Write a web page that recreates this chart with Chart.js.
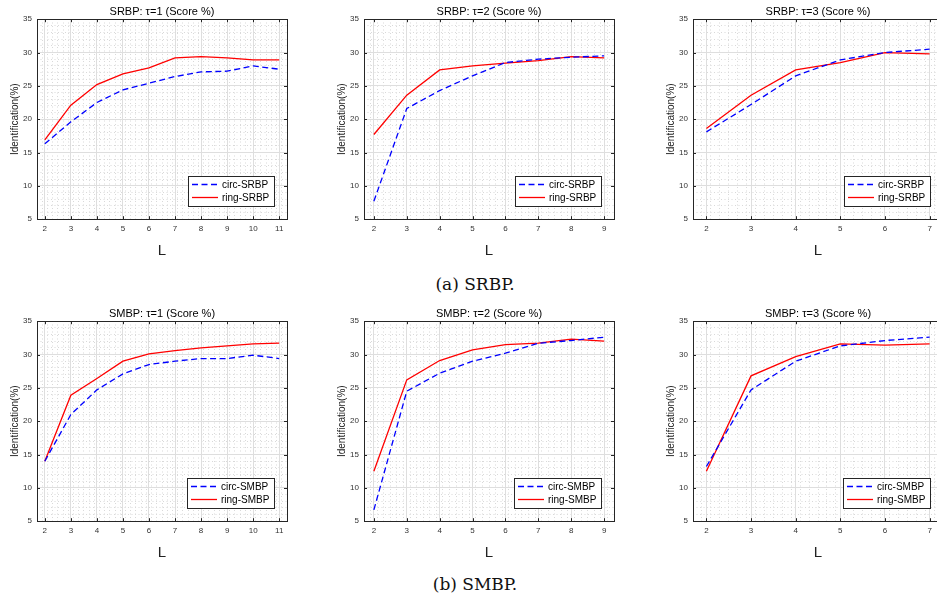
<!DOCTYPE html>
<html>
<head>
<meta charset="utf-8">
<script src="https://cdn.jsdelivr.net/npm/chart.js@4.4.1/dist/chart.umd.min.js"></script>
<style>
  body { margin: 0; width: 937px; height: 606px; overflow: hidden; position: relative; background: #fff; }
  canvas { position: absolute; }
  .cap { position: absolute; width: 200px; left: 375px; text-align: center; font-family: "DejaVu Serif", serif; font-size: 17px; color: #111; }
</style>
</head>
<body>
<canvas id="c1" width="324" height="260" style="left:0px;top:0px"></canvas>
<canvas id="c2" width="324" height="260" style="left:327px;top:0px"></canvas>
<canvas id="c3" width="324" height="260" style="left:656px;top:0px"></canvas>
<div class="cap" style="top:274px">(a) SRBP.</div>
<canvas id="c4" width="324" height="260" style="left:0px;top:302px"></canvas>
<canvas id="c5" width="324" height="260" style="left:327px;top:302px"></canvas>
<canvas id="c6" width="324" height="260" style="left:656px;top:302px"></canvas>
<div class="cap" style="top:574px">(b) SMBP.</div>
<script>
// x values (L) per tau
const L1 = [2, 3, 4, 5, 6, 7, 8, 9, 10, 11];
const L2 = [2, 3, 4, 5, 6, 7, 8, 9];
const L3 = [2, 3, 4, 5, 6, 7];

// SRBP scores (%)
const srbpCirc1 = [16.3, 19.6, 22.5, 24.4, 25.4, 26.4, 27.1, 27.2, 28.0, 27.5];
const srbpRing1 = [16.9, 22.1, 25.2, 26.8, 27.7, 29.2, 29.4, 29.2, 28.9, 28.9];
const srbpCirc2 = [7.7, 21.6, 24.3, 26.5, 28.5, 29.0, 29.3, 29.5];
const srbpRing2 = [17.7, 23.6, 27.4, 28.0, 28.4, 28.8, 29.4, 29.2];
const srbpCirc3 = [18.1, 22.2, 26.5, 28.9, 30.0, 30.5];
const srbpRing3 = [18.6, 23.6, 27.4, 28.5, 30.0, 29.8];

// SMBP scores (%)
const smbpCirc1 = [14.0, 21.0, 24.7, 27.1, 28.5, 29.0, 29.4, 29.4, 29.9, 29.4];
const smbpRing1 = [14.0, 23.9, 26.4, 29.0, 30.1, 30.6, 31.0, 31.3, 31.6, 31.7];
const smbpCirc2 = [6.7, 24.5, 27.2, 29.0, 30.2, 31.7, 32.1, 32.6];
const smbpRing2 = [12.5, 26.2, 29.1, 30.7, 31.5, 31.7, 32.3, 32.0];
const smbpCirc3 = [13.2, 24.7, 29.0, 31.3, 32.1, 32.6];
const smbpRing3 = [12.5, 26.8, 29.7, 31.6, 31.4, 31.6];

const yMin = 5, yMax = 35, yStep = 5;

Chart.defaults.font.family = '"Liberation Sans", Arial, Helvetica, sans-serif';
Chart.defaults.color = "#333";

const axisColor = "#262626";

// box, inward ticks and legend inside the axes (matlab look)
const boxLegend = {
    id: "boxLegend",
    afterDatasetsDraw(chart) {
        const { ctx, chartArea: a } = chart;
        const xs = chart.scales.x, ys = chart.scales.y;
        ctx.save();
        ctx.strokeStyle = axisColor;
        ctx.lineWidth = 1;
        ctx.setLineDash([]);
        ctx.strokeRect(Math.round(a.left) + 0.5, Math.round(a.top) + 0.5, Math.round(a.width), Math.round(a.height));

        ctx.beginPath();
        xs.ticks.forEach(t => {
            const px = Math.round(xs.getPixelForValue(t.value)) + 0.5;
            ctx.moveTo(px, a.bottom); ctx.lineTo(px, a.bottom - 3);
            ctx.moveTo(px, a.top); ctx.lineTo(px, a.top + 3);
        });
        ys.ticks.forEach(t => {
            const py = Math.round(ys.getPixelForValue(t.value)) + 0.5;
            ctx.moveTo(a.left, py); ctx.lineTo(a.left + 3, py);
            ctx.moveTo(a.right, py); ctx.lineTo(a.right - 3, py);
        });
        ctx.stroke();

        // legend
        const sets = chart.data.datasets;
        ctx.font = '10px "Liberation Sans", Arial, sans-serif';
        const tw = Math.max(...sets.map(d => ctx.measureText(d.label).width));
        const w = Math.round(4 + 26 + 4 + tw + 5), h = 30;
        const x = Math.round(a.right - 13 - w), y = Math.round(a.bottom - 13 - h);
        ctx.fillStyle = "#fff";
        ctx.fillRect(x, y, w, h);
        ctx.strokeStyle = axisColor;
        ctx.strokeRect(x + 0.5, y + 0.5, w, h);
        sets.forEach((d, i) => {
            const yy = y + 8.5 + i * 13;
            ctx.strokeStyle = d.borderColor;
            ctx.lineWidth = d.borderWidth;
            ctx.setLineDash(d.borderDash || []);
            ctx.beginPath();
            ctx.moveTo(x + 4, yy);
            ctx.lineTo(x + 30, yy);
            ctx.stroke();
            ctx.setLineDash([]);
            ctx.fillStyle = "#000";
            ctx.textBaseline = "middle";
            ctx.fillText(d.label, x + 34, yy + 0.5);
        });
        ctx.restore();
    }
};

function makeChart(id, title, L, circ, ring, names) {
    const xMin = L[0] - 0.3, xMax = L[L.length - 1] + 0.3;
    const pts = arr => arr.map((v, i) => ({ x: L[i], y: v }));

    return new Chart(document.getElementById(id), {
        type: "line",
        data: {
            datasets: [
                {
                    label: names[0],
                    data: pts(circ),
                    borderColor: "#0000ff",
                    borderWidth: 1.3,
                    borderDash: [6, 3.5],
                    pointRadius: 0,
                    fill: false,
                    tension: 0
                },
                {
                    label: names[1],
                    data: pts(ring),
                    borderColor: "#ff0000",
                    borderWidth: 1.3,
                    pointRadius: 0,
                    fill: false,
                    tension: 0
                }
            ]
        },
        options: {
            responsive: false,
            animation: false,
            devicePixelRatio: 1,
            layout: { padding: 0 },
            plugins: {
                legend: { display: false },
                tooltip: { enabled: false },
                title: {
                    display: true,
                    text: title,
                    color: "#000",
                    font: { size: 11, weight: "normal" },
                    padding: { top: 5, bottom: 1 }
                }
            },
            scales: {
                xm: {
                    type: "linear",
                    position: "top",
                    min: xMin,
                    max: xMax,
                    ticks: { display: false, stepSize: 0.2, includeBounds: false },
                    grid: { color: "#d9d9d9", drawTicks: false },
                    border: { display: false, dash: [1, 2.5] },
                    afterBuildTicks: s => { s.ticks = s.ticks.filter(t => Math.abs(t.value - Math.round(t.value)) > 1e-6); },
                    afterFit: s => { s.height = 0; }
                },
                ym: {
                    type: "linear",
                    position: "right",
                    min: yMin,
                    max: yMax,
                    ticks: { display: false, stepSize: 1 },
                    grid: { color: "#d9d9d9", drawTicks: false },
                    border: { display: false, dash: [1, 2.5] },
                    afterBuildTicks: s => { s.ticks = s.ticks.filter(t => Math.round(t.value) % yStep !== 0); },
                    afterFit: s => { s.width = 37; }
                },
                x: {
                    type: "linear",
                    min: xMin,
                    max: xMax,
                    ticks: { stepSize: 1, includeBounds: false, padding: 5, color: "#333", font: { size: 8 } },
                    grid: { color: "#dedede", drawTicks: false },
                    border: { display: false },
                    title: { display: true, text: "L", color: "#222", font: { size: 15 }, padding: { top: 6, bottom: 0 } },
                    afterFit: s => { s.height = 40.8; }
                },
                y: {
                    type: "linear",
                    min: yMin,
                    max: yMax,
                    ticks: { stepSize: yStep, padding: 5, color: "#333", font: { size: 8 } },
                    grid: { color: "#dedede", drawTicks: false },
                    border: { display: false },
                    title: { display: true, text: "Identification(%)", color: "#222", font: { size: 10 }, padding: { top: 9, bottom: 0 } },
                    afterFit: s => { s.width = 37; }
                }
            }
        },
        plugins: [boxLegend]
    });
}

makeChart("c1", "SRBP: \u03c4=1 (Score %)", L1, srbpCirc1, srbpRing1, ["circ-SRBP", "ring-SRBP"]);
makeChart("c2", "SRBP: \u03c4=2 (Score %)", L2, srbpCirc2, srbpRing2, ["circ-SRBP", "ring-SRBP"]);
makeChart("c3", "SRBP: \u03c4=3 (Score %)", L3, srbpCirc3, srbpRing3, ["circ-SRBP", "ring-SRBP"]);
makeChart("c4", "SMBP: \u03c4=1 (Score %)", L1, smbpCirc1, smbpRing1, ["circ-SMBP", "ring-SMBP"]);
makeChart("c5", "SMBP: \u03c4=2 (Score %)", L2, smbpCirc2, smbpRing2, ["circ-SMBP", "ring-SMBP"]);
makeChart("c6", "SMBP: \u03c4=3 (Score %)", L3, smbpCirc3, smbpRing3, ["circ-SMBP", "ring-SMBP"]);
</script>
</body>
</html>
